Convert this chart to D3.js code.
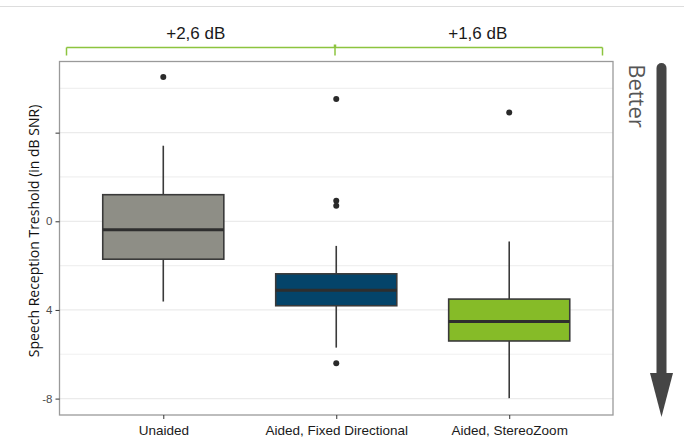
<!DOCTYPE html>
<html>
<head>
<meta charset="utf-8">
<script src="https://cdn.jsdelivr.net/npm/d3@7"></script>
<style>
  html, body { margin: 0; padding: 0; background: #fff; }
  svg { display: block; }
</style>
</head>
<body>
<svg id="chart" width="684" height="443"></svg>
<script>
// Groups and box-plot summaries (dB SNR)
const categories = ["Unaided", "Aided, Fixed Directional", "Aided, StereoZoom"];
const lowerWhisker = [-3.62, -5.70, -7.98];
const q1 = [-1.71, -3.81, -5.40];
const medians = [-0.38, -3.11, -4.52];
const q3 = [1.20, -2.37, -3.51];
const upperWhisker = [3.41, -1.11, -0.91];
const outliers = [[6.51], [5.52, 0.93, 0.70, -6.40], [4.91]];
const fills = ["#8e8e86", "#04446a", "#86bb28"];

// Y axis
const yTicks = [4, 0, -4, -8];
const yTickLabels = ["", "0", "4", "-8"];
const yMinorTicks = [6, 2, -2, -6];

// Improvement annotations between groups
const gains = ["+2,6 dB", "+1,6 dB"];

const svg = d3.select("#chart");
const panel = { left: 59.5, top: 61.5, right: 613, bottom: 415 };

const x = d3.scalePoint()
  .domain(categories)
  .range([panel.left, panel.right])
  .padding(0.6);
const step = x.step();
const boxW = step * 0.7;

const y = d3.scaleLinear()
  .domain([-8.74, 7.21])
  .range([panel.bottom, panel.top]);

// Top separator line
svg.append("line")
  .attr("x1", 0).attr("x2", 684)
  .attr("y1", 6.5).attr("y2", 6.5)
  .attr("stroke", "#dddddd").attr("stroke-width", 1);

// Grid
const grid = svg.append("g");
grid.selectAll("line.minor").data(yMinorTicks).join("line")
  .attr("class", "minor")
  .attr("x1", panel.left).attr("x2", panel.right)
  .attr("y1", d => y(d)).attr("y2", d => y(d))
  .attr("stroke", "#f0f0f0").attr("stroke-width", 1.2);
grid.selectAll("line.major").data(yTicks).join("line")
  .attr("class", "major")
  .attr("x1", panel.left).attr("x2", panel.right)
  .attr("y1", d => y(d)).attr("y2", d => y(d))
  .attr("stroke", "#ebebeb").attr("stroke-width", 1.2);

// Panel border
svg.append("rect")
  .attr("x", panel.left).attr("y", panel.top)
  .attr("width", panel.right - panel.left)
  .attr("height", panel.bottom - panel.top)
  .attr("fill", "none").attr("stroke", "#9a9a9a").attr("stroke-width", 1.3);

// Y axis
const yAxis = d3.axisLeft(y)
  .tickValues(yTicks)
  .tickFormat((d, i) => yTickLabels[i])
  .tickSize(4).tickPadding(3);
const ya = svg.append("g").attr("transform", `translate(${panel.left},0)`).call(yAxis);
ya.select(".domain").remove();
ya.selectAll(".tick line").attr("stroke", "#333").attr("stroke-width", 1);
ya.selectAll(".tick text")
  .attr("fill", "#4d4d4d")
  .style("font-family", "Liberation Sans, Arial, sans-serif")
  .style("font-size", "11.5px");

// X axis
const xAxis = d3.axisBottom(x).tickSize(4).tickPadding(6);
const xa = svg.append("g").attr("transform", `translate(0,${panel.bottom})`).call(xAxis);
xa.select(".domain").remove();
xa.selectAll(".tick line").attr("stroke", "#333").attr("stroke-width", 1);
xa.selectAll(".tick text")
  .attr("fill", "#1a1a1a")
  .style("font-family", "Liberation Sans, Arial, sans-serif")
  .style("font-size", "13.5px");

// Y axis title
svg.append("text")
  .attr("transform", `translate(39,231) rotate(-90)`)
  .attr("text-anchor", "middle")
  .style("font-family", "Open Sans, sans-serif")
  .style("font-size", "14px")
  .attr("fill", "#111")
  .text("Speech Reception Treshold (in dB SNR)");

// Boxes
const boxes = svg.append("g");
categories.forEach((c, i) => {
  const cx = x(c);
  const g = boxes.append("g");
  g.append("line")
    .attr("x1", cx).attr("x2", cx)
    .attr("y1", y(upperWhisker[i])).attr("y2", y(q3[i]))
    .attr("stroke", "#3a3a3a").attr("stroke-width", 1.6);
  g.append("line")
    .attr("x1", cx).attr("x2", cx)
    .attr("y1", y(q1[i])).attr("y2", y(lowerWhisker[i]))
    .attr("stroke", "#3a3a3a").attr("stroke-width", 1.6);
  g.append("rect")
    .attr("x", cx - boxW / 2).attr("width", boxW)
    .attr("y", y(q3[i])).attr("height", y(q1[i]) - y(q3[i]))
    .attr("fill", fills[i]).attr("stroke", "#3a3a3a").attr("stroke-width", 1.6);
  g.append("line")
    .attr("x1", cx - boxW / 2).attr("x2", cx + boxW / 2)
    .attr("y1", y(medians[i])).attr("y2", y(medians[i]))
    .attr("stroke", "#2e2e2e").attr("stroke-width", 3);
  g.selectAll("circle").data(outliers[i]).join("circle")
    .attr("cx", cx).attr("cy", d => y(d)).attr("r", 3)
    .attr("fill", "#2a2a2a");
});

// Gain brackets above the panel
const bx = [66.5, 335, 602.5];
const bracketY = 47.5;
const green = "#8cc43f";
const br = svg.append("g").attr("stroke", green).attr("stroke-width", 1.5).attr("fill", "none");
br.append("line").attr("x1", bx[0]).attr("x2", bx[2]).attr("y1", bracketY).attr("y2", bracketY);
bx.forEach(v => {
  br.append("line").attr("x1", v).attr("x2", v).attr("y1", bracketY).attr("y2", bracketY + 8);
});
br.append("line").attr("x1", bx[1]).attr("x2", bx[1]).attr("y1", bracketY - 3).attr("y2", bracketY)
  .attr("stroke-width", 2.5);
gains.forEach((t, i) => {
  svg.append("text")
    .attr("x", (bx[i] + bx[i + 1]) / 2 - (i === 0 ? 5 : -9))
    .attr("y", 39)
    .attr("text-anchor", "middle")
    .style("font-family", "Liberation Sans, Arial, sans-serif")
    .style("font-size", "17px")
    .attr("fill", "#1a1a1a")
    .text(t);
});

// "Better" direction arrow
const arrowX = 661.5;
svg.append("line")
  .attr("x1", arrowX).attr("x2", arrowX)
  .attr("y1", 68).attr("y2", 380)
  .attr("stroke", "#454545").attr("stroke-width", 10).attr("stroke-linecap", "round");
svg.append("path")
  .attr("d", `M${arrowX - 11.5},373 L${arrowX + 11.5},373 L${arrowX},417 Z`)
  .attr("fill", "#454545");
svg.append("text")
  .attr("transform", `translate(629,96) rotate(90)`)
  .attr("text-anchor", "middle")
  .style("font-family", "Open Sans, sans-serif")
  .style("font-size", "22px")
  .attr("fill", "#555")
  .text("Better");
</script>
</body>
</html>
